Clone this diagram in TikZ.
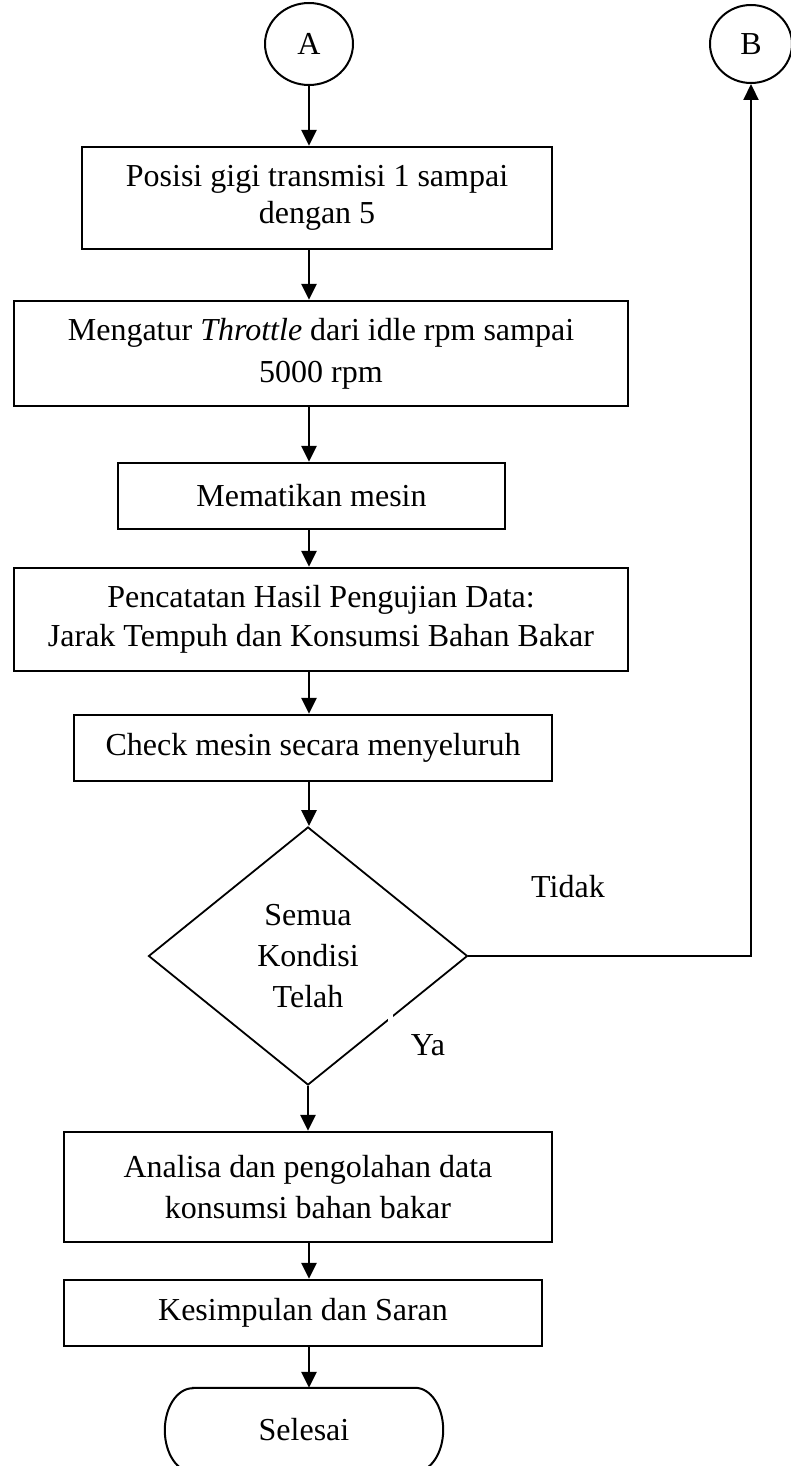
\documentclass[tikz,border=0pt]{standalone}
\usepackage{fontspec}
\setmainfont{Liberation Serif}
\usetikzlibrary{shapes.geometric,arrows.meta,calc}

\tikzset{
  txt/.style={font=\fontsize{32}{37}\selectfont, align=center, inner sep=0pt},
  stepbox/.style={txt, draw, line width=2.4pt, rectangle},
  connector/.style={draw, line width=2pt, ellipse, inner sep=0pt, font=\fontsize{32}{37}\selectfont},
  decision/.style={txt, draw, line width=1.8pt, diamond, inner sep=0pt},
  flow/.style={line width=2.6pt, -{Triangle[length=16pt,width=15pt]}},
}

\begin{document}
\begin{tikzpicture}[x=1pt, y=-1pt]
  \useasboundingbox (0,0) rectangle (791,1466);
  \clip (0,0) rectangle (791,1466);

  % off-page connectors
  \node[connector, minimum width=88pt, minimum height=82pt] (A) at (309,44) {A};
  \node[connector, minimum width=82pt, minimum height=78pt] (B) at (751,44) {B};

  % process steps
  \node[stepbox, minimum width=470pt, minimum height=102pt] (box1) at (317,198)
    {Posisi gigi transmisi 1 sampai\\dengan 5};
  \node[stepbox, minimum width=614pt, minimum height=105pt,
        font=\fontsize{32}{42}\selectfont] (box2) at (321,353.5)
    {Mengatur \textit{Throttle} dari idle rpm sampai\\5000 rpm};
  \node[stepbox, minimum width=387pt, minimum height=66pt] (box3) at (311.5,496)
    {Mematikan mesin};
  \node[stepbox, minimum width=614pt, minimum height=103pt,
        font=\fontsize{32}{39}\selectfont] (box4) at (321,619.5)
    {Pencatatan Hasil Pengujian Data:\\Jarak Tempuh dan Konsumsi Bahan Bakar};
  \node[stepbox, minimum width=478pt, minimum height=66pt] (box5) at (313,748)
    {Check mesin secara menyeluruh};

  % decision
  \node[decision, minimum width=319pt, minimum height=258pt,
        font=\fontsize{32}{41}\selectfont] (dia) at (308,956)
    {Semua\\Kondisi\\Telah};
  \fill[white] (387.5,1012) rectangle (392.5,1021);

  \node[stepbox, minimum width=488pt, minimum height=110pt,
        font=\fontsize{32}{41}\selectfont] (box6) at (308,1187)
    {Analisa dan pengolahan data\\konsumsi bahan bakar};
  \node[stepbox, minimum width=478pt, minimum height=66pt] (box7) at (303,1313)
    {Kesimpulan dan Saran};

  % terminator
  \node[txt, minimum width=278pt, minimum height=84pt] (sel) at (304,1430) {Selesai};
  \draw[line width=2pt]
    ([xshift=28pt]sel.north west) -- ([xshift=-28pt]sel.north east)
    arc[start angle=90, end angle=-90, x radius=28pt, y radius=42pt]
    -- ([xshift=28pt]sel.south west)
    arc[start angle=270, end angle=90, x radius=28pt, y radius=42pt] -- cycle;

  % branch labels
  \node[txt] (tidak) at (568,887) {Tidak};
  \node[txt] (ya) at (428,1045) {Ya};

  % main flow
  \draw[flow] (A.south) -- (A.south |- box1.north);
  \draw[flow] (box1.south -| A.south) -- (A.south |- box2.north);
  \draw[flow] (box2.south -| A.south) -- (A.south |- box3.north);
  \draw[flow] (box3.south -| A.south) -- (A.south |- box4.north);
  \draw[flow] (box4.south -| A.south) -- (A.south |- box5.north);
  \draw[flow] (box5.south -| A.south) -- (A.south |- dia.north);
  \draw[flow] (dia.south) -- (dia.south |- box6.north);
  \draw[flow] (box6.south -| A.south) -- (A.south |- box7.north);
  \draw[flow] (box7.south -| A.south) -- (A.south |- sel.north);

  % "Tidak" branch back to connector B
  \draw[flow, line width=2.2pt] (dia.east) -| (B.south);
\end{tikzpicture}
\end{document}
